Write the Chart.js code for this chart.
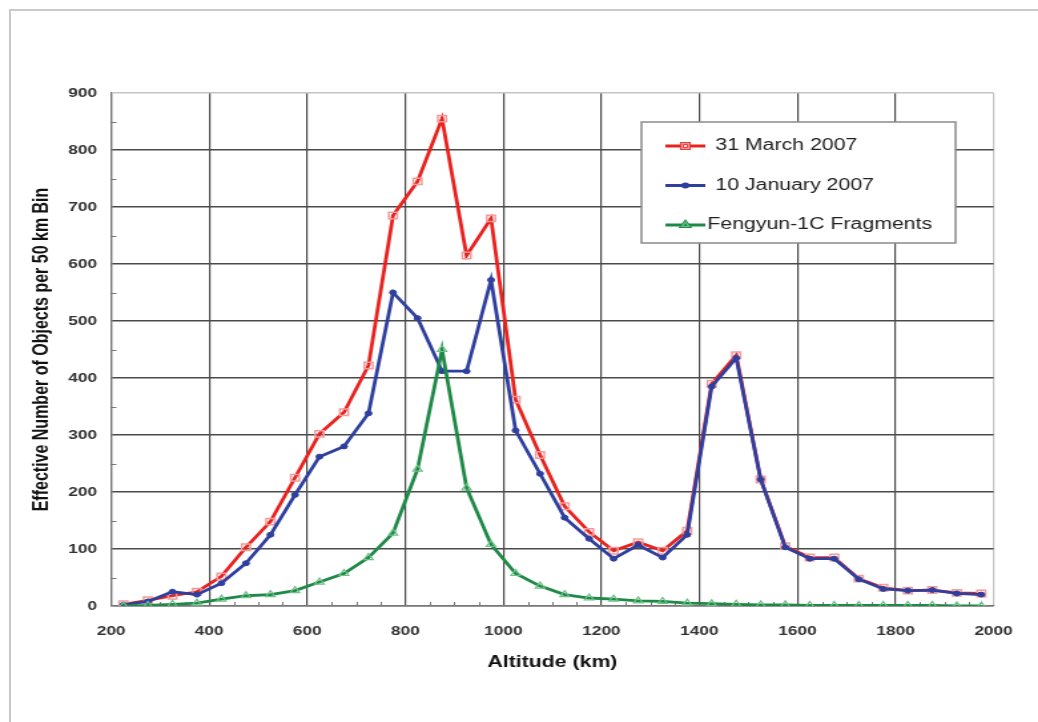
<!DOCTYPE html>
<html lang="en">
<head>
<meta charset="UTF-8">
<title>Altitude distribution</title>
<script src="https://cdn.jsdelivr.net/npm/chart.js"></script>
<style>
    body { margin: 0; background: #fff; font-family: "Liberation Sans", Arial, sans-serif; overflow: hidden; }
    #frame { position: absolute; left: 9px; top: 9px; width: 1040px; height: 720px; border: 2px solid #c9c9c9; }
    /* the original picture is stretched sideways, so the chart is drawn narrow and widened */
    #wrap { position: absolute; left: 0; top: 0; width: 780px; height: 722px; transform: scaleX(1.3308); transform-origin: 0 0; }
</style>
</head>
<body>
<div id="frame"></div>
<div id="wrap"><canvas id="chart"></canvas></div>
<script>
    // bin centres (km)
    const altitudes = [225, 275, 325, 375, 425, 475, 525, 575, 625, 675, 725, 775, 825, 875, 925, 975,
        1025, 1075, 1125, 1175, 1225, 1275, 1325, 1375, 1425, 1475, 1525, 1575, 1625, 1675, 1725, 1775,
        1825, 1875, 1925, 1975];

    const march2007 = [3, 10, 18, 25, 52, 103, 148, 225, 302, 340, 422, 685, 745, 855, 615, 680,
        362, 265, 175, 130, 97, 112, 97, 132, 390, 440, 222, 105, 85, 85, 48, 32,
        27, 28, 23, 22];

    const january2007 = [2, 8, 25, 20, 40, 75, 125, 195, 262, 280, 338, 550, 505, 412, 412, 572,
        308, 232, 155, 118, 83, 107, 85, 125, 385, 435, 222, 103, 83, 83, 47, 30,
        27, 28, 22, 20];

    const fengyun = [0, 1, 3, 5, 12, 18, 20, 27, 42, 57, 85, 128, 240, 450, 207, 108,
        57, 35, 20, 14, 12, 9, 8, 5, 4, 3, 2, 2, 1, 1, 1, 1,
        1, 1, 0, 0];

    const seriesLabels = ["31 March 2007", "10 January 2007", "Fengyun-1C Fragments"];

    function toPoints(values) {
        return altitudes.map((a, i) => ({ x: a, y: values[i] }));
    }

    // small minor ticks every 50 units along both axes
    const minorTicks = {
        id: "minorTicks",
        beforeDatasetsDraw(chart) {
            const { ctx, chartArea, scales } = chart;
            ctx.save();
            ctx.strokeStyle = "#777";
            ctx.lineWidth = 1;
            ctx.beginPath();
            for (let v = 50; v < 900; v += 100) {
                const y = Math.round(scales.y.getPixelForValue(v)) + 0.5;
                ctx.moveTo(chartArea.left, y);
                ctx.lineTo(chartArea.left + 4, y);
            }
            for (let v = 250; v < 2000; v += 50) {
                if (v % 200 === 0) continue;
                const x = Math.round(scales.x.getPixelForValue(v)) + 0.5;
                ctx.moveTo(x, chartArea.bottom);
                ctx.lineTo(x, chartArea.bottom - 4);
            }
            ctx.stroke();
            ctx.restore();
        }
    };

    // legend box drawn inside the plot like the original
    const boxLegend = {
        id: "boxLegend",
        afterDraw(chart) {
            const ctx = chart.ctx;
            const x0 = 482, y0 = 122, w = 236, h = 121;
            ctx.save();
            ctx.fillStyle = "#fff";
            ctx.fillRect(x0, y0, w, h);
            ctx.strokeStyle = "#8a8a8a";
            ctx.lineWidth = 1.5;
            ctx.strokeRect(x0, y0, w, h);
            ctx.font = "16px 'Liberation Sans', Arial, sans-serif";
            ctx.textBaseline = "middle";
            chart.data.datasets.forEach((ds, i) => {
                const y = y0 + 24 + i * 39.5;
                ctx.strokeStyle = ds.borderColor;
                ctx.lineWidth = 3;
                ctx.beginPath();
                ctx.moveTo(x0 + 18, y);
                ctx.lineTo(x0 + 48, y);
                ctx.stroke();
                Chart.helpers.drawPoint(ctx, {
                    pointStyle: ds.pointStyle,
                    radius: ds.pointRadius - 1,
                    borderWidth: ds.pointBorderWidth || 1,
                    rotation: 0
                }, x0 + 33, y);
                ctx.strokeStyle = ds.pointBorderColor;
                ctx.fillStyle = ds.pointBackgroundColor;
                ctx.lineWidth = ds.pointBorderWidth || 1;
                ctx.fill();
                ctx.stroke();
                ctx.fillStyle = "#222";
                ctx.fillText(ds.label, x0 + (i === 2 ? 49.5 : 55.5), y);
            });
            ctx.restore();
        }
    };

    const tickFont = { size: 13, weight: "bold", family: "'Liberation Sans', Arial" };
    const titleFont = { size: 16, weight: "bold", family: "'Liberation Sans', Arial" };

    new Chart(document.getElementById("chart"), {
        type: "line",
        data: {
            datasets: [
                {
                    label: seriesLabels[0],
                    data: toPoints(march2007),
                    order: 3,
                    borderColor: "#e8231f",
                    borderWidth: 2.8,
                    pointStyle: "rect",
                    pointRadius: 4.5,
                    pointBorderColor: "#f29a9a",
                    pointBackgroundColor: "rgba(255,255,255,0)",
                    pointBorderWidth: 1.5,
                    tension: 0
                },
                {
                    label: seriesLabels[1],
                    data: toPoints(january2007),
                    order: 2,
                    borderColor: "#2f3f9e",
                    borderWidth: 2.8,
                    pointStyle: "circle",
                    pointRadius: 2.5,
                    pointBorderColor: "#2f3f9e",
                    pointBackgroundColor: "#2f3f9e",
                    pointBorderWidth: 1,
                    tension: 0
                },
                {
                    label: seriesLabels[2],
                    data: toPoints(fengyun),
                    order: 1,
                    borderColor: "#1e8a47",
                    borderWidth: 2.8,
                    pointStyle: "triangle",
                    pointRadius: 4,
                    pointBorderColor: "#6cbf86",
                    pointBackgroundColor: "rgba(255,255,255,0)",
                    pointBorderWidth: 1.2,
                    tension: 0
                }
            ]
        },
        options: {
            responsive: true,
            maintainAspectRatio: false,
            animation: false,
            layout: { padding: { left: 0, top: 93, right: 33.4, bottom: 0 } },
            plugins: {
                legend: { display: false },
                tooltip: { enabled: false }
            },
            scales: {
                x: {
                    type: "linear",
                    min: 200,
                    max: 2000,
                    ticks: { stepSize: 200, padding: 18, color: "#333", font: tickFont, callback: v => String(v) },
                    grid: {
                        drawTicks: false,
                        lineWidth: 1.2,
                        color: c => (c.tick && c.tick.value === 2000) ? "#c4c4c4" : "#4a4a4a"
                    },
                    border: { color: "#777", width: 1.2 },
                    title: {
                        display: true,
                        text: "Altitude (km)",
                        color: "#111",
                        font: titleFont,
                        padding: { top: 0, bottom: 50 }
                    },
                    afterFit: s => { s.height = 116; }
                },
                y: {
                    min: 0,
                    max: 900,
                    ticks: { stepSize: 100, padding: 10.5, color: "#333", font: tickFont },
                    grid: {
                        drawTicks: false,
                        lineWidth: 1.5,
                        color: c => (c.tick && c.tick.value === 900) ? "#c4c4c4" : "#4a4a4a"
                    },
                    border: { color: "#777", width: 1.2 },
                    title: {
                        display: true,
                        text: "Effective Number of Objects per 50 km Bin",
                        color: "#111",
                        font: titleFont,
                        padding: { top: 22, bottom: 0 }
                    },
                    afterFit: s => { s.width = 83.5; }
                }
            }
        },
        plugins: [minorTicks, boxLegend]
    });
</script>
</body>
</html>
